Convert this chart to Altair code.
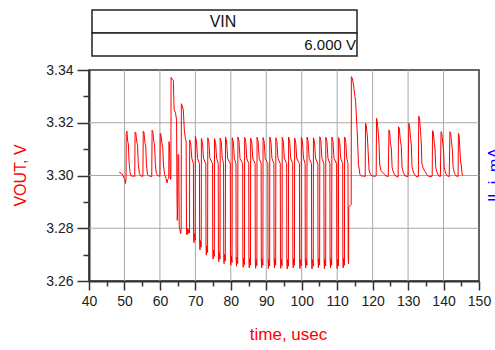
import altair as alt
import pandas as pd

# ---- waveform samples: (time in usec, VOUT in V) ----
startup = [
    (48.5, 3.3013), (49.4, 3.3005), (50.1, 3.2985), (50.3, 3.2970), (50.45, 3.2990),
    (50.5, 3.3160), (50.7, 3.3168), (50.9, 3.3130), (51.1, 3.3120), (51.3, 3.3050),
    (51.6, 3.3010), (51.9, 3.2998), (52.5, 3.2998), (52.9, 3.2996),
    (53.0, 3.3165), (53.2, 3.3162), (53.5, 3.3125), (53.7, 3.3115), (53.9, 3.3045),
    (54.2, 3.3008), (54.6, 3.2998), (55.2, 3.2997),
    (55.3, 3.3168), (55.5, 3.3163), (55.8, 3.3122), (56.0, 3.3112), (56.2, 3.3040),
    (56.5, 3.3005), (57.0, 3.2998), (57.7, 3.2996),
    (57.8, 3.3172), (58.0, 3.3166), (58.3, 3.3128), (58.5, 3.3115), (58.7, 3.3045),
    (59.0, 3.3008), (59.5, 3.2999), (60.0, 3.2997),
    (60.1, 3.3160), (60.3, 3.3154), (60.6, 3.3120), (60.8, 3.3108), (61.0, 3.3040),
    (61.3, 3.3005), (61.7, 3.2990), (62.0, 3.2972), (62.2, 3.2985), (62.5, 3.2990),
    (62.55, 3.3128), (62.7, 3.3120), (62.9, 3.3000), (63.0, 3.2985), (63.1, 3.2990),
]

transient = [
    (63.15, 3.3372), (63.5, 3.3365), (63.8, 3.3360), (64.0, 3.3250), (64.4, 3.3238),
    (64.7, 3.3210), (64.8, 3.2950), (64.9, 3.2830), (65.0, 3.2870), (65.1, 3.3080),
    (65.3, 3.3078), (65.45, 3.2810), (65.7, 3.2790), (65.9, 3.2780), (66.0, 3.2800),
    (66.05, 3.3272), (66.3, 3.3265), (66.6, 3.3248), (66.9, 3.3170), (67.2, 3.3140),
    (67.4, 3.3130), (67.5, 3.2790), (67.6, 3.2775), (67.75, 3.2800), (67.9, 3.2778),
    (68.1, 3.2795), (68.35, 3.2782),
]

ripple = [
    (68.4, 3.3135), (68.7, 3.3120), (69.0, 3.3065), (69.45, 3.3045), (69.5, 3.2775), (69.6, 3.2745), (69.7, 3.2780), (69.95, 3.2755),
    (70.0, 3.3148), (70.3, 3.3133), (70.6, 3.3065), (71.15, 3.3045), (71.2, 3.2748), (71.3, 3.2718), (71.4, 3.2753), (71.65, 3.2728),
    (71.7, 3.3140), (72.0, 3.3125), (72.3, 3.3065), (72.95, 3.3045), (73.0, 3.2728), (73.1, 3.2698), (73.2, 3.2733), (73.45, 3.2708),
    (73.5, 3.3143), (73.8, 3.3128), (74.1, 3.3065), (74.85, 3.3045), (74.9, 3.2713), (75.0, 3.2683), (75.1, 3.2718), (75.35, 3.2693),
    (75.4, 3.3140), (75.7, 3.3125), (76.0, 3.3065), (76.45, 3.3045), (76.5, 3.2703), (76.6, 3.2673), (76.7, 3.2708), (76.95, 3.2683),
    (77.0, 3.3142), (77.3, 3.3127), (77.6, 3.3065), (77.95, 3.3045), (78.0, 3.2696), (78.1, 3.2666), (78.2, 3.2701), (78.45, 3.2676),
    (78.5, 3.3146), (78.8, 3.3131), (79.1, 3.3065), (79.85, 3.3045), (79.9, 3.2690), (80.0, 3.2660), (80.1, 3.2695), (80.35, 3.2670),
    (80.4, 3.3143), (80.7, 3.3128), (81.0, 3.3065), (81.45, 3.3045), (81.5, 3.2686), (81.6, 3.2656), (81.7, 3.2691), (81.95, 3.2666),
    (82.0, 3.3146), (82.3, 3.3131), (82.6, 3.3065), (83.35, 3.3045), (83.4, 3.2682), (83.5, 3.2652), (83.6, 3.2687), (83.85, 3.2662),
    (83.9, 3.3145), (84.2, 3.3130), (84.5, 3.3065), (85.05, 3.3045), (85.1, 3.2680), (85.2, 3.2650), (85.3, 3.2685), (85.55, 3.2660),
    (85.6, 3.3142), (85.9, 3.3127), (86.2, 3.3065), (86.85, 3.3045), (86.9, 3.2678), (87.0, 3.2648), (87.1, 3.2683), (87.35, 3.2658),
    (87.4, 3.3145), (87.7, 3.3130), (88.0, 3.3065), (88.55, 3.3045), (88.6, 3.2680), (88.7, 3.2650), (88.8, 3.2685), (89.05, 3.2660),
    (89.1, 3.3144), (89.4, 3.3129), (89.7, 3.3065), (90.45, 3.3045), (90.5, 3.2677), (90.6, 3.2647), (90.7, 3.2682), (90.95, 3.2657),
    (91.0, 3.3146), (91.3, 3.3131), (91.6, 3.3065), (92.15, 3.3045), (92.2, 3.2680), (92.3, 3.2650), (92.4, 3.2685), (92.65, 3.2660),
    (92.7, 3.3143), (93.0, 3.3128), (93.3, 3.3065), (93.95, 3.3045), (94.0, 3.2678), (94.1, 3.2648), (94.2, 3.2683), (94.45, 3.2658),
    (94.5, 3.3145), (94.8, 3.3130), (95.1, 3.3065), (95.75, 3.3045), (95.8, 3.2676), (95.9, 3.2646), (96.0, 3.2681), (96.25, 3.2656),
    (96.3, 3.3146), (96.6, 3.3131), (96.9, 3.3065), (97.45, 3.3045), (97.5, 3.2680), (97.6, 3.2650), (97.7, 3.2685), (97.95, 3.2660),
    (98.0, 3.3142), (98.3, 3.3127), (98.6, 3.3065), (99.35, 3.3045), (99.4, 3.2677), (99.5, 3.2647), (99.6, 3.2682), (99.85, 3.2657),
    (99.9, 3.3145), (100.2, 3.3130), (100.5, 3.3065), (100.95, 3.3045), (101.0, 3.2679), (101.1, 3.2649), (101.2, 3.2684), (101.45, 3.2659),
    (101.5, 3.3146), (101.8, 3.3131), (102.1, 3.3065), (102.75, 3.3045), (102.8, 3.2676), (102.9, 3.2646), (103.0, 3.2681), (103.25, 3.2656),
    (103.3, 3.3143), (103.6, 3.3128), (103.9, 3.3065), (104.55, 3.3045), (104.6, 3.2680), (104.7, 3.2650), (104.8, 3.2685), (105.05, 3.2660),
    (105.1, 3.3147), (105.4, 3.3132), (105.7, 3.3065), (106.25, 3.3045), (106.3, 3.2677), (106.4, 3.2647), (106.5, 3.2682), (106.75, 3.2657),
    (106.8, 3.3145), (107.1, 3.3130), (107.4, 3.3065), (107.95, 3.3045), (108.0, 3.2680), (108.1, 3.2650), (108.2, 3.2685), (108.45, 3.2660),
    (108.5, 3.3146), (108.8, 3.3131), (109.1, 3.3065), (109.85, 3.3045), (109.9, 3.2677), (110.0, 3.2647), (110.1, 3.2682), (110.35, 3.2657),
    (110.4, 3.3144), (110.7, 3.3129), (111.0, 3.3065), (111.55, 3.3045), (111.6, 3.2680), (111.7, 3.2650), (111.8, 3.2685), (112.05, 3.2660),
    (112.1, 3.3146), (112.4, 3.3131), (112.7, 3.3065), (113.05, 3.3045), (113.1, 3.2690), (113.2, 3.2665), (113.25, 3.2880), (113.95, 3.2890),
]

recovery = [
    (114.0, 3.3375), (114.3, 3.3368), (114.6, 3.3343), (115.0, 3.3300), (115.2, 3.3280),
    (115.4, 3.3230), (115.7, 3.3150), (116.0, 3.3045), (116.4, 3.3005), (116.8, 3.2998),
    (117.5, 3.2998), (117.9, 3.2996),
    (118.0, 3.3198), (118.2, 3.3190), (118.5, 3.3150), (118.7, 3.3100), (119.0, 3.3020),
    (119.4, 3.3003), (120.0, 3.2998), (120.8, 3.2997), (121.0, 3.2999),
    (121.1, 3.3217), (121.3, 3.3205), (121.6, 3.3160), (121.8, 3.3120), (122.0, 3.3040),
    (122.3, 3.3020), (122.8, 3.3012), (123.3, 3.3005), (123.8, 3.2998), (124.4, 3.2996),
    (124.6, 3.3173), (124.8, 3.3168), (125.0, 3.3125), (125.3, 3.3100), (125.5, 3.3030),
    (125.9, 3.3010), (126.5, 3.2998), (127.1, 3.2994), (127.2, 3.2998),
    (127.3, 3.3185), (127.5, 3.3180), (127.8, 3.3135), (128.1, 3.3110), (128.3, 3.3030),
    (128.7, 3.3010), (129.2, 3.2998), (130.0, 3.2996),
    (130.2, 3.3198), (130.4, 3.3190), (130.7, 3.3140), (130.9, 3.3120), (131.1, 3.3035),
    (131.5, 3.3012), (132.0, 3.3000), (132.5, 3.2995), (132.9, 3.2996),
    (133.0, 3.3225), (133.2, 3.3220), (133.5, 3.3170), (133.7, 3.3130), (133.9, 3.3045),
    (134.3, 3.3025), (134.8, 3.3015), (135.3, 3.3003), (135.8, 3.2997), (136.5, 3.2996),
    (136.8, 3.2998),
    (136.9, 3.3170), (137.1, 3.3165), (137.4, 3.3125), (137.6, 3.3100), (137.8, 3.3030),
    (138.2, 3.3010), (138.7, 3.2998), (139.1, 3.2996),
    (139.3, 3.3166), (139.5, 3.3160), (139.8, 3.3120), (140.0, 3.3095), (140.2, 3.3030),
    (140.6, 3.3008), (141.1, 3.2998), (141.6, 3.2996),
    (141.8, 3.3166), (142.0, 3.3160), (142.3, 3.3120), (142.5, 3.3095), (142.7, 3.3030),
    (143.1, 3.3008), (143.6, 3.2998), (144.1, 3.2996),
    (144.2, 3.3160), (144.4, 3.3150), (144.6, 3.3100), (144.8, 3.3055), (145.0, 3.3040),
    (145.2, 3.3010), (145.4, 3.3000),
]

x_ticks = [40, 45, 50, 55, 60, 65, 70, 75, 80, 85, 90, 95, 100, 105, 110, 115,
           120, 125, 130, 135, 140, 145, 150]
y_ticks = [3.26, 3.27, 3.28, 3.29, 3.30, 3.31, 3.32, 3.33, 3.34]
x_grid = [50, 60, 70, 80, 90, 100, 110, 120, 130, 140]
y_grid = [3.28, 3.30, 3.32]

table_header = "VIN"
table_value = "6.000 V"
x_title = "time, usec"
y_title = "VOUT, V"
right_title = "IL.i, mA"

FONT = "Liberation Sans"

points = startup + transient + ripple + recovery
df = pd.DataFrame(points, columns=["t", "v"])
df["i"] = range(len(df))

W, H = 390, 211
x_scale = alt.Scale(domain=[40, 150], nice=False, zero=False)
y_scale = alt.Scale(domain=[3.26, 3.34], nice=False, zero=False)

x_major = "datum.value % 10 === 0"
y_major = "round(datum.value * 100) % 2 === 0"

x_axis = alt.Axis(
    values=x_ticks, grid=False,
    title=x_title, titleColor="#ff0000", titleFont=FONT, titleFontSize=17,
    titleFontWeight="normal", titleX=199, titleY=58, titleBaseline="alphabetic",
    labelFont=FONT, labelFontSize=14, labelColor="#222222", labelPadding=4,
    labelExpr=f"{x_major} ? datum.label : ''", labelFlush=False, labelOverlap=False,
    tickColor="#333333", tickWidth=1.5,
    tickSize={"condition": {"test": x_major, "value": 9}, "value": 5},
    domainColor="#333333", domainWidth=2,
)

y_axis = alt.Axis(
    values=y_ticks, grid=False,
    title=y_title, titleColor="#ff0000", titleFont=FONT, titleFontSize=16,
    titleFontWeight="normal", titleX=-64, titleY=105, titleAngle=270,
    titleBaseline="alphabetic",
    labelFont=FONT, labelFontSize=14, labelColor="#222222", labelPadding=4,
    labelExpr=f"{y_major} ? format(datum.value, '.2f') : ''",
    labelFlush=False, labelOverlap=False,
    tickColor="#333333", tickWidth=1.5,
    tickSize={"condition": {"test": y_major, "value": 12}, "value": 6},
    domainColor="#333333", domainWidth=2,
)

grid_x = alt.Chart(pd.DataFrame({"t": x_grid})).mark_rule(
    color="#a8a8a8", strokeWidth=1
).encode(x=alt.X("t:Q", scale=x_scale, axis=x_axis))

grid_y = alt.Chart(pd.DataFrame({"v": y_grid})).mark_rule(
    color="#a8a8a8", strokeWidth=1
).encode(y=alt.Y("v:Q", scale=y_scale, axis=y_axis))

line = alt.Chart(df).mark_line(color="#ff0000", strokeWidth=1).encode(
    x=alt.X("t:Q", scale=x_scale, axis=x_axis),
    y=alt.Y("v:Q", scale=y_scale, axis=y_axis),
    order="i:Q",
)

one = pd.DataFrame({"k": [0]})

box_top = alt.Chart(one).mark_rect(fill="white", stroke="#222222", strokeWidth=1.5).encode(
    x=alt.value(3), x2=alt.value(268), y=alt.value(-60), y2=alt.value(-37)
)
box_bottom = alt.Chart(one).mark_rect(fill="white", stroke="#222222", strokeWidth=1.5).encode(
    x=alt.value(3), x2=alt.value(268), y=alt.value(-37), y2=alt.value(-14)
)
head_text = alt.Chart(one).mark_text(
    font=FONT, fontSize=16, color="#111111", align="center", baseline="middle"
).encode(x=alt.value(134), y=alt.value(-48), text=alt.value(table_header))
value_text = alt.Chart(one).mark_text(
    font=FONT, fontSize=15, color="#111111", align="right", baseline="middle"
).encode(x=alt.value(267), y=alt.value(-25), text=alt.value(table_value))
right_text = alt.Chart(one).mark_text(
    font=FONT, fontSize=16, color="#0000ff", align="center", baseline="alphabetic", angle=270
).encode(x=alt.value(411), y=alt.value(105), text=alt.value(right_title))

chart = alt.layer(grid_x, grid_y, line, box_top, box_bottom, head_text, value_text, right_text).properties(
    width=W, height=H,
    autosize=alt.AutoSizeParams(type="none"),
    padding={"left": 89, "top": 70, "right": 16, "bottom": 69},
    background="white",
).configure_view(stroke="#333333", strokeWidth=1.5)

chart.save("out.html", embed_options={"renderer": "svg", "actions": False})
